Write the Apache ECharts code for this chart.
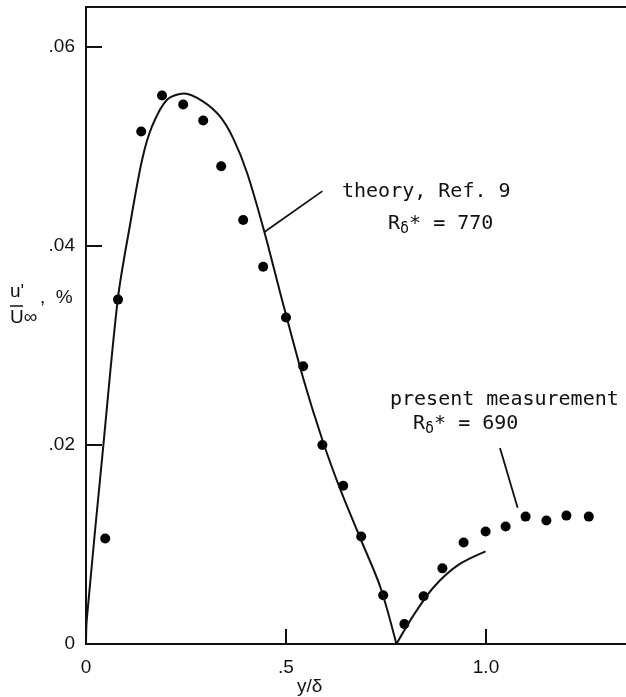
<!DOCTYPE html>
<html>
<head>
<meta charset="utf-8">
<script src="https://cdn.jsdelivr.net/npm/echarts@6/dist/echarts.min.js"></script>
<style>
  html, body { margin: 0; padding: 0; background: #fff; }
  #main { width: 626px; height: 697px; }
</style>
</head>
<body>
<div id="main"></div>
<script>
// measured points (y/delta, u'/U)
const measX = [0.048, 0.080, 0.138, 0.190, 0.243, 0.293, 0.338, 0.393, 0.443, 0.500, 0.543, 0.591,
    0.643, 0.688, 0.743, 0.796, 0.844, 0.891, 0.944, 0.999, 1.049, 1.099, 1.151, 1.201, 1.257];
const measY = [0.0106, 0.0346, 0.0515, 0.0551, 0.0542, 0.0526, 0.0480, 0.0426, 0.0379, 0.0328, 0.0279, 0.0200,
    0.0159, 0.0108, 0.0049, 0.0020, 0.0048, 0.0076, 0.0102, 0.0113, 0.0118, 0.0128, 0.0124, 0.0129, 0.0128];

// theory, Ref. 9 - two branches either side of the zero at ~0.776
const theoryLeftX = [0, 0.002, 0.043, 0.080, 0.110, 0.140, 0.165, 0.203, 0.245, 0.293, 0.335,
    0.368, 0.403, 0.446, 0.486, 0.543, 0.591, 0.636, 0.686, 0.736, 0.776];
const theoryLeftY = [0, 0.0025, 0.0198, 0.0348, 0.0421, 0.0486, 0.0520, 0.0547, 0.0553, 0.0545, 0.0530,
    0.0508, 0.0473, 0.0414, 0.0352, 0.0267, 0.0205, 0.0155, 0.0106, 0.0057, 0];
const theoryRightX = [0.776, 0.819, 0.869, 0.929, 0.999];
const theoryRightY = [0, 0.0029, 0.0057, 0.0079, 0.0093];

// leader lines for the two notes
const leaderTheory = [[0.446, 0.0414], [0.591, 0.0455]];
const leaderMeas = [[1.035, 0.0197], [1.079, 0.0137]];

const xTicks = [0, 0.5, 1.0];
const xTickLabels = ['0', '.5', '1.0'];
const yTicks = [0, 0.02, 0.04, 0.06];
const yTickLabels = ['0', '.02', '.04', '.06'];

(function () {
    const chart = echarts.init(document.getElementById('main'), null, { renderer: 'canvas' });
    const ink = '#111';
    const tickFont = { fontFamily: 'Liberation Sans', fontSize: 19, color: ink };
    const mono = 'DejaVu Sans Mono';

    const zip = (xs, ys) => xs.map((x, i) => [x, ys[i]]);
    const labelOf = (ticks, labels) => v => {
        const i = ticks.findIndex(t => Math.abs(t - v) < 1e-9);
        return i < 0 ? '' : labels[i];
    };

    const rLabel = (value) => ({
        text: '{r|R}{d|δ}{r|* = ' + value + '}',
        rich: {
            r: { fontFamily: mono, fontSize: 20, fill: ink },
            d: { fontFamily: mono, fontSize: 15, fill: ink, padding: [10, 0, 0, 0] }
        }
    });

    const option = {
        backgroundColor: '#fff',
        animation: false,
        grid: { left: 86, right: 0, top: 7, bottom: 53 },
        xAxis: [{
            type: 'value', min: 0, max: 1.35,
            axisLine: { lineStyle: { color: ink, width: 2 } },
            axisTick: { inside: true, length: 15, customValues: [0.5, 1.0], lineStyle: { color: ink, width: 2 } },
            axisLabel: { customValues: xTicks, formatter: labelOf(xTicks, xTickLabels), margin: 14, ...tickFont },
            splitLine: { show: false }
        }, {
            type: 'value', position: 'top', min: 0, max: 1.35,
            axisLine: { show: true, lineStyle: { color: ink, width: 2 } },
            axisTick: { show: false }, axisLabel: { show: false }, splitLine: { show: false }
        }],
        yAxis: {
            type: 'value', min: 0, max: 0.064,
            axisLine: { show: true, lineStyle: { color: ink, width: 2 } },
            axisTick: { show: true, inside: true, length: 16, customValues: [0.02, 0.04, 0.06], lineStyle: { color: ink, width: 2 } },
            axisLabel: { customValues: yTicks, formatter: labelOf(yTicks, yTickLabels), margin: 11, ...tickFont },
            splitLine: { show: false }
        },
        series: [
            {
                type: 'line', data: zip(theoryLeftX, theoryLeftY), smooth: 0.3, showSymbol: false,
                lineStyle: { color: ink, width: 2 }
            },
            {
                type: 'line', data: zip(theoryRightX, theoryRightY), smooth: 0.3, showSymbol: false,
                lineStyle: { color: ink, width: 2 }
            },
            {
                type: 'line', data: leaderTheory, showSymbol: false,
                lineStyle: { color: ink, width: 1.8 }
            },
            {
                type: 'line', data: leaderMeas, showSymbol: false,
                lineStyle: { color: ink, width: 1.8 }
            },
            {
                type: 'scatter', data: zip(measX, measY), symbol: 'circle', symbolSize: 10,
                itemStyle: { color: '#000', opacity: 1 }
            }
        ],
        graphic: [
            // y axis title: u'/U∞, %
            { type: 'text', left: 10, top: 282, style: { text: "u'", font: '19px Liberation Sans', fill: ink } },
            { type: 'line', shape: { x1: 10, y1: 306, x2: 23, y2: 306 }, style: { stroke: ink, lineWidth: 1.5 } },
            { type: 'text', left: 10, top: 308, style: { text: 'U∞', font: '19px Liberation Sans', fill: ink } },
            { type: 'text', left: 40, top: 288, style: { text: ',  %', font: '19px Liberation Sans', fill: ink } },
            // x axis title
            { type: 'text', left: 297, top: 677, style: { text: 'y/δ', font: '19px Liberation Sans', fill: ink } },
            // notes
            { type: 'text', left: 342, top: 182, style: { text: 'theory, Ref. 9', font: '20px ' + mono, fill: ink } },
            { type: 'text', left: 388, top: 214, style: rLabel(770) },
            { type: 'text', left: 390, top: 390, style: { text: 'present measurement', font: '20px ' + mono, fill: ink } },
            { type: 'text', left: 413, top: 414, style: rLabel(690) }
        ]
    };
    chart.setOption(option);
})();
</script>
</body>
</html>
